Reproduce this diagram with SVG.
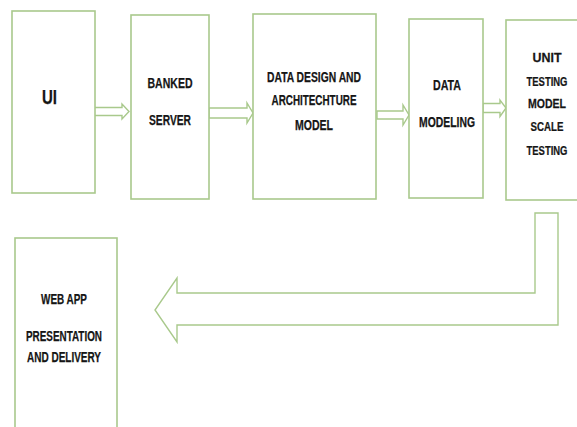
<svg xmlns="http://www.w3.org/2000/svg" width="577" height="427" viewBox="0 0 577 427">
  <style>
    .box { fill: #ffffff; stroke: #a9c98c; stroke-width: 1.6; }
    .arrow { fill: #ffffff; stroke: #a9c98c; stroke-width: 1.4; stroke-linejoin: miter; }
    .lbl { font-family: "Liberation Sans", Arial, sans-serif; font-weight: bold; font-size: 14px; fill: #151515; stroke: #151515; stroke-width: 0.25; text-anchor: middle; }
    .sm { font-size: 13.5px; }
    .big { font-size: 20px; }
  </style>
  <rect width="577" height="427" fill="#ffffff"/>

  <!-- flow connectors -->
  <g id="connectors">
    <polygon class="arrow" points="94,107.5 122,107.5 122,104 129,111.5 122,119 122,115.5 94,115.5"/>
    <polygon class="arrow" points="209,108 247,108 247,103 253,113 247,123 247,118 209,118"/>
    <polygon class="arrow" points="377,111 403,111 403,105 409,115 403,125 403,119 377,119"/>
    <polygon class="arrow" points="483,103.5 500,103.5 500,100 506,108 500,116.5 500,112.5 483,112.5"/>
    <polygon class="arrow" points="535,213 558,213 558,325 177,325 177,342 155,310 177,278 177,293 535,293"/>
  </g>

  <g id="ui">
    <rect class="box" x="12" y="11" width="83" height="182"/>
    <text class="lbl big" x="49.5" y="104" textLength="15" lengthAdjust="spacingAndGlyphs">UI</text>
  </g>

  <g id="banked-server">
    <rect class="box" x="131" y="15" width="78" height="184"/>
    <text class="lbl" x="170" y="88" textLength="45" lengthAdjust="spacingAndGlyphs">BANKED</text>
    <text class="lbl" x="170" y="125" textLength="42" lengthAdjust="spacingAndGlyphs">SERVER</text>
  </g>

  <g id="data-design">
    <rect class="box" x="253" y="14" width="123" height="185"/>
    <text class="lbl" x="314" y="82" textLength="94" lengthAdjust="spacingAndGlyphs">DATA DESIGN AND</text>
    <text class="lbl" x="314" y="105" textLength="85" lengthAdjust="spacingAndGlyphs">ARCHITECHTURE</text>
    <text class="lbl" x="314" y="130" textLength="38" lengthAdjust="spacingAndGlyphs">MODEL</text>
  </g>

  <g id="data-modeling">
    <rect class="box" x="409" y="19" width="74" height="179"/>
    <text class="lbl" x="447" y="90" textLength="28" lengthAdjust="spacingAndGlyphs">DATA</text>
    <text class="lbl" x="447" y="127" textLength="56" lengthAdjust="spacingAndGlyphs">MODELING</text>
  </g>

  <!-- narrow column: labels squeezed horizontally to fit -->
  <g id="unit-testing">
    <rect class="box" x="506" y="20" width="74" height="180"/>
    <text class="lbl sm" transform="translate(547 62) scale(0.92 1)">UNIT</text>
    <text class="lbl sm" transform="translate(547 86) scale(0.7 1)">TESTING</text>
    <text class="lbl sm" transform="translate(547 108) scale(0.78 1)">MODEL</text>
    <text class="lbl sm" transform="translate(547 131) scale(0.72 1)">SCALE</text>
    <text class="lbl sm" transform="translate(547 155) scale(0.7 1)">TESTING</text>
  </g>

  <g id="web-app">
    <rect class="box" x="15" y="238" width="102" height="200"/>
    <text class="lbl" x="64" y="304" textLength="46" lengthAdjust="spacingAndGlyphs">WEB APP</text>
    <text class="lbl" x="64" y="341" textLength="76" lengthAdjust="spacingAndGlyphs">PRESENTATION</text>
    <text class="lbl" x="64" y="362" textLength="74" lengthAdjust="spacingAndGlyphs">AND DELIVERY</text>
  </g>
</svg>
